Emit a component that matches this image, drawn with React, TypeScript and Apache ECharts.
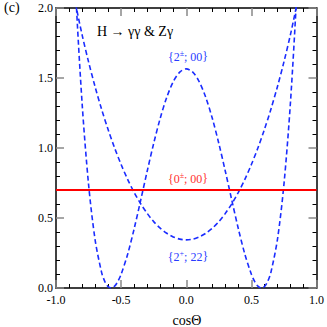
import React, { useEffect, useRef } from "react";
import * as echarts from "echarts";

const xTicks = [-1.0, -0.5, 0.0, 0.5, 1.0];
const yTicks = [0.0, 0.5, 1.0, 1.5, 2.0];

// {2±; 00}
const cosA = [-0.9, -0.85, -0.8, -0.75, -0.7, -0.65, -0.625, -0.6, -0.575, -0.55, -0.525, -0.5, -0.45, -0.4, -0.35, -0.3, -0.25, -0.2, -0.15, -0.1, -0.05, 0,
  0.05, 0.1, 0.15, 0.2, 0.25, 0.3, 0.35, 0.4, 0.45, 0.5, 0.525, 0.55, 0.575, 0.6, 0.625, 0.65, 0.7, 0.75, 0.8, 0.85, 0.9];
const valA = [3.2, 2.133, 1.325, 0.74, 0.346, 0.112, 0.046, 0.01, 0.0, 0.013, 0.047, 0.098, 0.241, 0.423, 0.626, 0.834, 1.033, 1.212, 1.361, 1.473, 1.542, 1.565,
  1.542, 1.473, 1.361, 1.212, 1.033, 0.834, 0.626, 0.423, 0.241, 0.098, 0.047, 0.013, 0.0, 0.01, 0.046, 0.112, 0.346, 0.74, 1.325, 2.133, 3.2];

// {2+; 22}
const cosB = [-0.9, -0.85, -0.8, -0.75, -0.7, -0.65, -0.6, -0.55, -0.5, -0.45, -0.4, -0.35, -0.3, -0.25, -0.2, -0.15, -0.1, -0.05, 0,
  0.05, 0.1, 0.15, 0.2, 0.25, 0.3, 0.35, 0.4, 0.45, 0.5, 0.55, 0.6, 0.65, 0.7, 0.75, 0.8, 0.85, 0.9];
const valB = [2.26, 2.03, 1.81, 1.615, 1.438, 1.277, 1.132, 1.0, 0.882, 0.776, 0.683, 0.602, 0.533, 0.474, 0.427, 0.391, 0.365, 0.349, 0.344,
  0.349, 0.365, 0.391, 0.427, 0.474, 0.533, 0.602, 0.683, 0.776, 0.882, 1.0, 1.132, 1.277, 1.438, 1.615, 1.81, 2.03, 2.26];

// {0±; 00}
const cosC = [-1.0, 1.0];
const valC = [0.7, 0.7];

const FONT = "Liberation Serif, DejaVu Serif, serif";

export default function App() {
  const ref = useRef<HTMLDivElement>(null);
  useEffect(() => {
    if (!ref.current) return;
    const chart = echarts.init(ref.current, undefined, { renderer: "svg" });
    const axisCommon = {
      type: "value",
      interval: 0.5,
      axisLine: { show: true, onZero: false, lineStyle: { color: "#000", width: 1.5 } },
      axisTick: { show: true, inside: true, length: 8, lineStyle: { color: "#888", width: 1.5 } },
      minorTick: { show: true, splitNumber: 5, length: 4, lineStyle: { color: "#000", width: 1 } },
      splitLine: { show: false },
      minorSplitLine: { show: false },
    };
    const fmt = (v: number) => v.toFixed(1);
    chart.setOption({
      animation: false,
      textStyle: { fontFamily: FONT },
      grid: { left: 56, right: 8, top: 5, bottom: 39, containLabel: false },
      xAxis: [
        {
          ...axisCommon,
          min: xTicks[0],
          max: xTicks[xTicks.length - 1],
          position: "bottom",
          axisLabel: { show: true, margin: 6, lineHeight: 12, formatter: fmt, color: "#000", fontSize: 12, fontFamily: FONT },
        },
        {
          ...axisCommon,
          min: xTicks[0],
          max: xTicks[xTicks.length - 1],
          position: "top",
          axisLabel: { show: false },
        },
      ],
      yAxis: [
        {
          ...axisCommon,
          min: yTicks[0],
          max: yTicks[yTicks.length - 1],
          position: "left",
          axisLabel: { show: true, margin: 3, lineHeight: 12, padding: [0, 0, 4, 0], formatter: fmt, color: "#000", fontSize: 12, fontFamily: FONT },
        },
        {
          ...axisCommon,
          min: yTicks[0],
          max: yTicks[yTicks.length - 1],
          position: "right",
          axisLabel: { show: false },
        },
      ],
      series: [
        {
          type: "line",
          data: cosA.map((x, i) => [x, valA[i]]),
          smooth: 0.3,
          showSymbol: false,
          clip: true,
          lineStyle: { color: "#1a2cff", width: 1.6, type: [5, 3] },
        },
        {
          type: "line",
          data: cosB.map((x, i) => [x, valB[i]]),
          smooth: 0.3,
          showSymbol: false,
          clip: true,
          lineStyle: { color: "#1a2cff", width: 1.6, type: [5, 3] },
        },
        {
          type: "line",
          data: cosC.map((x, i) => [x, valC[i]]),
          showSymbol: false,
          clip: true,
          lineStyle: { color: "#ff0000", width: 1.8 },
        },
      ],
      graphic: [
        { type: "text", left: 4, top: 0, style: { text: "(c)", fontSize: 14, fontFamily: FONT, fill: "#000" } },
        { type: "text", left: 97, top: 24, style: { text: "H → γγ & Zγ", fontSize: 14, fontFamily: FONT, fill: "#000" } },
        {
          type: "text", x: 188, y: 56,
          style: {
            text: "{a|{2}{s|±}{a|; 00}}", align: "center", verticalAlign: "middle", fontSize: 12, fontFamily: FONT, fill: "#2a3cff",
            rich: { a: { fontSize: 12, fontFamily: FONT, fill: "#2a3cff", verticalAlign: "bottom" }, s: { fontSize: 8, fontFamily: FONT, fill: "#2a3cff", verticalAlign: "bottom", padding: [0, 0, 5, 0] } },
          },
        },
        {
          type: "text", x: 188, y: 178,
          style: {
            text: "{a|{0}{s|±}{a|; 00}}", align: "center", verticalAlign: "middle", fontSize: 12, fontFamily: FONT, fill: "#ff3030",
            rich: { a: { fontSize: 12, fontFamily: FONT, fill: "#ff3030", verticalAlign: "bottom" }, s: { fontSize: 8, fontFamily: FONT, fill: "#ff3030", verticalAlign: "bottom", padding: [0, 0, 5, 0] } },
          },
        },
        {
          type: "text", x: 188, y: 256,
          style: {
            text: "{a|{2}{s|+}{a|; 22}}", align: "center", verticalAlign: "middle", fontSize: 12, fontFamily: FONT, fill: "#2a3cff",
            rich: { a: { fontSize: 12, fontFamily: FONT, fill: "#2a3cff", verticalAlign: "bottom" }, s: { fontSize: 8, fontFamily: FONT, fill: "#2a3cff", verticalAlign: "bottom", padding: [0, 0, 5, 0] } },
          },
        },
        { type: "text", x: 187, y: 320, style: { text: "cosΘ", align: "center", verticalAlign: "middle", fontSize: 14, fontFamily: FONT, fill: "#000" } },
      ],
    });
    return () => chart.dispose();
  }, []);
  return <div ref={ref} style={{ width: 327, height: 327, position: "absolute", left: 0, top: 0 }} />;
}
